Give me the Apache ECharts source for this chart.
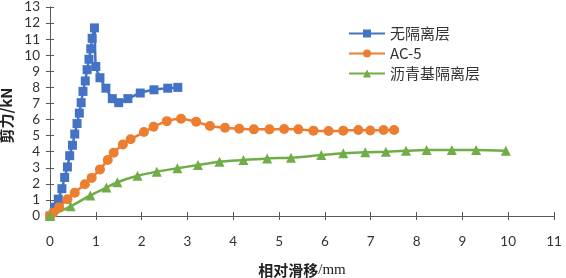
<!DOCTYPE html>
<html><head><meta charset="utf-8">
<script src="https://cdn.jsdelivr.net/npm/echarts@6/dist/echarts.min.js"></script>
<style>html,body{margin:0;padding:0;background:#fff}#c{width:566px;height:278px}</style>
</head><body><div id="c"></div>
<script>
const seriesNames = ['无隔离层', 'AC-5', '沥青基隔离层'];
const blueX = [0, 0.1, 0.18, 0.26, 0.32, 0.38, 0.43, 0.49, 0.54, 0.59, 0.64, 0.68, 0.72, 0.77, 0.81, 0.85, 0.89, 0.92, 0.97, 1.0, 1.09, 1.22, 1.36, 1.5, 1.7, 1.97, 2.27, 2.57, 2.79];
const blueY = [0, 0.55, 1.05, 1.7, 2.4, 3.05, 3.75, 4.4, 5.1, 5.75, 6.4, 7.05, 7.75, 8.4, 9.1, 9.75, 10.4, 11.05, 11.7, 9.3, 8.6, 7.95, 7.3, 7.05, 7.3, 7.65, 7.85, 7.95, 8.0];
const orangeX = [0, 0.07, 0.2, 0.38, 0.54, 0.76, 0.91, 1.09, 1.26, 1.39, 1.59, 1.76, 2.05, 2.26, 2.55, 2.86, 3.19, 3.49, 3.82, 4.13, 4.45, 4.79, 5.11, 5.42, 5.75, 6.08, 6.4, 6.73, 6.99, 7.28, 7.51];
const orangeY = [0, 0.2, 0.55, 1.04, 1.45, 1.97, 2.37, 2.9, 3.48, 3.94, 4.45, 4.77, 5.22, 5.55, 5.9, 6.05, 5.86, 5.6, 5.49, 5.43, 5.39, 5.39, 5.41, 5.39, 5.31, 5.29, 5.31, 5.35, 5.32, 5.35, 5.35];
const greenX = [0, 0.45, 0.88, 1.23, 1.47, 1.91, 2.33, 2.78, 3.23, 3.7, 4.22, 4.74, 5.26, 5.92, 6.4, 6.88, 7.33, 7.77, 8.22, 8.77, 9.3, 9.95];
const greenY = [0, 0.6, 1.28, 1.77, 2.1, 2.5, 2.76, 2.97, 3.17, 3.38, 3.48, 3.58, 3.63, 3.79, 3.9, 3.97, 4.0, 4.06, 4.1, 4.1, 4.1, 4.06];
const xTicks = {min: 0, max: 11, interval: 1};
const yTicks = {min: 0, max: 13, interval: 1};
const xName = '相对滑移';
const xUnit = '/mm';
const yName = '剪力/kN';

const colors = ['#4472C4', '#ED7D31', '#70AD47'];
const zip = (a, b) => a.map((v, i) => [v, b[i]]);
const axisCol = '#595959';
const labelFont = {fontFamily: 'Lato', fontSize: 13.5, color: '#333'};

const chart = echarts.init(document.getElementById('c'), null, {renderer: 'canvas'});
const baseX = {type: 'value', min: xTicks.min, max: xTicks.max, interval: xTicks.interval,
  splitLine: {show: false}, axisLine: {onZero: false, lineStyle: {color: axisCol, width: 1}}};
const baseY = {type: 'value', min: yTicks.min, max: yTicks.max, interval: yTicks.interval,
  splitLine: {show: false}, axisLine: {onZero: false, lineStyle: {color: axisCol, width: 1}}};
chart.setOption({
  animation: false,
  color: colors,
  grid: {left: 50, right: 12, top: 7, bottom: 62, containLabel: false, outerBoundsMode: 'none'},
  legend: {
    orient: 'vertical', left: 343, top: 21, itemGap: 5, itemWidth: 36, itemHeight: 10,
    textStyle: {fontFamily: 'Noto Sans CJK SC', fontSize: 15, color: '#333'},
    data: seriesNames
  },
  xAxis: [
    Object.assign({}, baseX, {
      axisTick: {show: true, length: 4, lineStyle: {color: axisCol}},
      axisLabel: Object.assign({margin: 19}, labelFont),
      name: '{a|' + xName + '}{b|' + xUnit + '}', nameLocation: 'middle', nameGap: 47,
      nameTextStyle: {rich: {
        a: {fontFamily: 'Noto Sans CJK SC', fontWeight: 'bold', fontSize: 15, color: '#222'},
        b: {fontFamily: 'Liberation Serif', fontSize: 15, color: '#222'}
      }}
    }),
    Object.assign({}, baseX, {position: 'bottom', axisTick: {show: true, inside: true, length: 4, lineStyle: {color: axisCol}}, axisLabel: {show: false}})
  ],
  yAxis: [
    Object.assign({}, baseY, {
      axisTick: {show: true, length: 4, lineStyle: {color: axisCol}},
      axisLabel: Object.assign({margin: 10}, labelFont),
      name: yName, nameLocation: 'middle', nameGap: 32,
      nameTextStyle: {fontFamily: 'Noto Sans CJK SC', fontWeight: 'bold', fontSize: 15, color: '#222', padding: [0, 0, 0, -8]}
    }),
    Object.assign({}, baseY, {position: 'left', axisTick: {show: true, inside: true, length: 4, lineStyle: {color: axisCol}}, axisLabel: {show: false}})
  ],
  series: [
    {name: seriesNames[0], type: 'line', data: zip(blueX, blueY), smooth: 0.25, symbol: 'rect', symbolSize: 9,
      lineStyle: {width: 2.5}, itemStyle: {color: colors[0]}},
    {name: seriesNames[1], type: 'line', data: zip(orangeX, orangeY), smooth: 0.25, symbol: 'circle', symbolSize: 10,
      lineStyle: {width: 2.5}, itemStyle: {color: colors[1]}},
    {name: seriesNames[2], type: 'line', data: zip(greenX, greenY), smooth: 0.25, symbol: 'triangle', symbolSize: 10,
      lineStyle: {width: 2.5}, itemStyle: {color: colors[2]}}
  ]
});
</script></body></html>
